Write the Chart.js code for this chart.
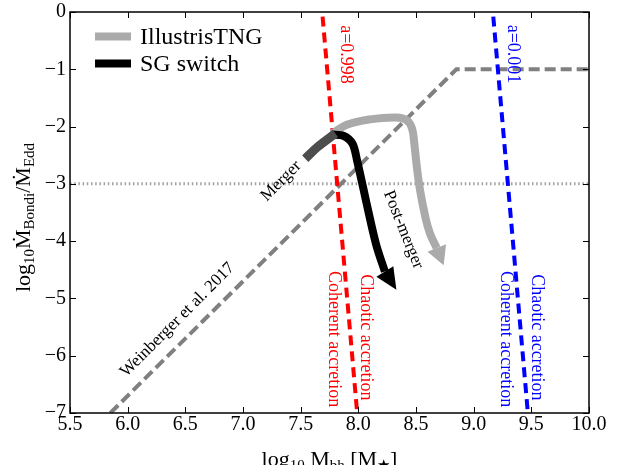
<!DOCTYPE html>
<html>
<head>
<meta charset="utf-8">
<script src="https://cdn.jsdelivr.net/npm/chart.js@4"></script>
<style>
  body { margin: 0; background: #fff; }
  #wrap { width: 619px; height: 465px; }
</style>
</head>
<body>
<div id="wrap"><canvas id="myChart" width="619" height="465"></canvas></div>
<script>
// ---------------------------------------------------------------------------------
// tracks in the (log10 Mbh, log10 Mdot_Bondi / Mdot_Edd) plane
const mergerX = [7.54, 7.65, 7.80];
const mergerY = [-2.56, -2.35, -2.12];

const sgX = [7.77, 7.87, 7.95, 7.99, 8.04, 8.1, 8.16, 8.23];
const sgY = [-2.14, -2.16, -2.3, -2.6, -3.05, -3.6, -4.1, -4.53];
const sgTip = [8.33, -4.85];

const tngX = [7.77, 7.9, 8.1, 8.33, 8.42, 8.465, 8.485, 8.507, 8.535, 8.58, 8.62, 8.68];
const tngY = [-2.13, -1.97, -1.875, -1.84, -1.89, -2.03, -2.29, -2.7, -3.11, -3.57, -3.86, -4.12];
const tngTip = [8.74, -4.42];

// Weinberger et al. 2017 threshold
const weinX = [5.85, 8.85, 10.0];
const weinY = [-7, -1, -1];

// spin a=0.998 and a=0.001 boundaries
const spinHighX = [7.69, 7.99];
const spinHighY = [-0.08, -7];
const spinLowX = [9.17, 9.47];
const spinLowY = [-0.08, -7];

const refX = [5.5, 10.0];
const refY = [-3, -3];

const xTicks = [5.5, 6.0, 6.5, 7.0, 7.5, 8.0, 8.5, 9.0, 9.5, 10.0];
const yTicks = [-7, -6, -5, -4, -3, -2, -1, 0];
const legendOrder = ["IllustrisTNG", "SG switch"];
// ---------------------------------------------------------------------------------
const SERIF = "'Liberation Serif', 'DejaVu Serif', serif";

function pts(xs, ys) {
  return xs.map((x, i) => ({ x: x, y: ys[i] }));
}

const notes = [
  { text: "a=0.998", x: 7.891, y: -0.742, rot: 90, color: "#ff0000", size: 18 },
  { text: "a=0.001", x: 9.341, y: -0.733, rot: 90, color: "#0000ff", size: 18 },
  { text: "Chaotic accretion", x: 8.065, y: -5.68, rot: 90, color: "#ff0000", size: 18 },
  { text: "Coherent accretion", x: 7.791, y: -5.71, rot: 90, color: "#ff0000", size: 18 },
  { text: "Chaotic accretion", x: 9.547, y: -5.68, rot: 90, color: "#0000ff", size: 18 },
  { text: "Coherent accretion", x: 9.279, y: -5.71, rot: 90, color: "#0000ff", size: 18 },
  { text: "Merger", x: 7.33, y: -2.95, rot: -45, color: "#000", size: 17 },
  { text: "Post-merger", x: 8.39, y: -3.8, rot: 68, color: "#000", size: 17 },
  { text: "Weinberger et al. 2017", x: 6.432, y: -5.375, rot: -45, color: "#000", size: 17 },
];

// draws a label made of normal and subscript pieces, centred on (0,0)
function drawRich(c, parts, size) {
  const subSize = Math.round(size * 0.7);
  let total = 0;
  parts.forEach((p) => {
    c.font = (p.sub ? subSize : size) + "px " + SERIF;
    p.w = c.measureText(p.t).width;
    total += p.w;
  });
  let x = -total / 2;
  c.textAlign = "left";
  c.textBaseline = "alphabetic";
  parts.forEach((p) => {
    c.font = (p.sub ? subSize : size) + "px " + SERIF;
    c.fillText(p.t, x, p.sub ? 3.5 : 0);
    x += p.w;
  });
}

const framePlugin = {
  id: "frame",
  afterDatasetsDraw(chart) {
    const c = chart.ctx;
    const a = chart.chartArea;
    const xs = chart.scales.x;
    const ys = chart.scales.y;

    // arrow heads at the end of the tracks
    chart.data.datasets.forEach((ds) => {
      if (!ds.arrowTip) return;
      const last = ds.data[ds.data.length - 1];
      const bx = xs.getPixelForValue(last.x);
      const by = ys.getPixelForValue(last.y);
      const tx = xs.getPixelForValue(ds.arrowTip[0]);
      const ty = ys.getPixelForValue(ds.arrowTip[1]);
      const len = Math.hypot(tx - bx, ty - by);
      const nx = -(ty - by) / len;
      const ny = (tx - bx) / len;
      c.save();
      c.fillStyle = ds.borderColor;
      c.beginPath();
      c.moveTo(bx + nx * 10, by + ny * 10);
      c.lineTo(tx, ty);
      c.lineTo(bx - nx * 10, by - ny * 10);
      c.closePath();
      c.fill();
      c.restore();
    });

    // box and inward ticks
    c.save();
    c.strokeStyle = "#000";
    c.lineWidth = 1;
    c.beginPath();
    xTicks.forEach((v) => {
      const px = Math.round(xs.getPixelForValue(v)) + 0.5;
      c.moveTo(px, a.bottom);
      c.lineTo(px, a.bottom - 6);
      c.moveTo(px, a.top);
      c.lineTo(px, a.top + 6);
    });
    yTicks.forEach((v) => {
      const py = Math.round(ys.getPixelForValue(v)) + 0.5;
      c.moveTo(a.left, py);
      c.lineTo(a.left + 6, py);
      c.moveTo(a.right, py);
      c.lineTo(a.right - 6, py);
    });
    c.stroke();
    c.lineWidth = 1.5;
    c.strokeRect(a.left, a.top, a.right - a.left, a.bottom - a.top);
    c.restore();
  },
  afterDraw(chart) {
    const c = chart.ctx;
    const a = chart.chartArea;
    const xs = chart.scales.x;
    const ys = chart.scales.y;

    notes.forEach((n) => {
      c.save();
      c.translate(xs.getPixelForValue(n.x), ys.getPixelForValue(n.y));
      c.rotate((n.rot * Math.PI) / 180);
      c.font = n.size + "px " + SERIF;
      c.fillStyle = n.color;
      c.textAlign = "center";
      c.textBaseline = "middle";
      c.fillText(n.text, 0, 0);
      c.restore();
    });

    // legend
    let ly = 36.5;
    legendOrder.forEach((name) => {
      const ds = chart.data.datasets.find((d) => d.label === name);
      c.save();
      c.strokeStyle = ds.borderColor;
      c.lineWidth = 8;
      c.beginPath();
      c.moveTo(95, ly);
      c.lineTo(131, ly);
      c.stroke();
      c.fillStyle = "#000";
      c.font = "24px " + SERIF;
      c.textAlign = "left";
      c.textBaseline = "alphabetic";
      c.fillText(ds.label, 140, ly + 7.8);
      c.restore();
      ly += 27;
    });

    // axis titles
    c.save();
    c.fillStyle = "#000";
    c.translate((a.left + a.right) / 2, 466);
    drawRich(c, [
      { t: "log" }, { t: "10", sub: true }, { t: " M" }, { t: "bh", sub: true },
      { t: " [M" }, { t: "\u2605", sub: true }, { t: "]" },
    ], 22);
    c.restore();

    c.save();
    c.fillStyle = "#000";
    c.translate(30, (a.top + a.bottom) / 2 + 5);
    c.rotate(-Math.PI / 2);
    drawRich(c, [
      { t: "log" }, { t: "10", sub: true }, { t: "\u1E40" }, { t: "Bondi", sub: true },
      { t: "/\u1E40" }, { t: "Edd", sub: true },
    ], 22);
    c.restore();
  },
};

function lineSet(label, xs, ys, color, width, extra) {
  return Object.assign({
    label: label,
    data: pts(xs, ys),
    showLine: true,
    borderColor: color,
    backgroundColor: color,
    borderWidth: width,
    pointRadius: 0,
    tension: 0,
    fill: false,
  }, extra || {});
}

const ctx = document.getElementById("myChart");
const myChart = new Chart(ctx, {
  type: "scatter",
  data: {
    datasets: [
      lineSet("Merger", mergerX, mergerY, "#4d4d4d", 9, { tension: 0.3 }),
      lineSet("SG switch", sgX, sgY, "#000000", 8, { tension: 0.3, arrowTip: sgTip }),
      lineSet("IllustrisTNG", tngX, tngY, "#aaaaaa", 8, { tension: 0.4, arrowTip: tngTip }),
      lineSet("a=0.998", spinHighX, spinHighY, "#ff0000", 4, { borderDash: [10, 6] }),
      lineSet("a=0.001", spinLowX, spinLowY, "#0000ff", 4, { borderDash: [10, 6] }),
      lineSet("Weinberger", weinX, weinY, "#808080", 4, { borderDash: [11, 5] }),
      lineSet("ref", refX, refY, "#a0a0a0", 3, { borderDash: [1.5, 2.7] }),
    ],
  },
  options: {
    responsive: false,
    animation: false,
    devicePixelRatio: 1,
    layout: { padding: { top: 12, right: 30, left: 0, bottom: 0 } },
    plugins: { legend: { display: false }, tooltip: { enabled: false } },
    scales: {
      x: {
        type: "linear",
        min: 5.5,
        max: 10,
        grid: { display: false, drawTicks: false },
        border: { display: false },
        ticks: {
          stepSize: 0.5,
          padding: 2,
          maxRotation: 0,
          autoSkip: false,
          color: "#000",
          font: { family: SERIF, size: 20, lineHeight: 1 },
          callback: (v) => v.toFixed(1),
        },
        afterFit(s) { s.height = 52; },
      },
      y: {
        type: "linear",
        min: -7,
        max: 0,
        grid: { display: false, drawTicks: false },
        border: { display: false },
        ticks: {
          stepSize: 1,
          padding: 4,
          color: "#000",
          font: { family: SERIF, size: 20, lineHeight: 0.8 },
          callback: (v) => (v < 0 ? "\u2212" + Math.abs(v) : String(v)),
        },
        afterFit(s) { s.width = 70; },
      },
    },
  },
  plugins: [framePlugin],
});
</script>
</body>
</html>
